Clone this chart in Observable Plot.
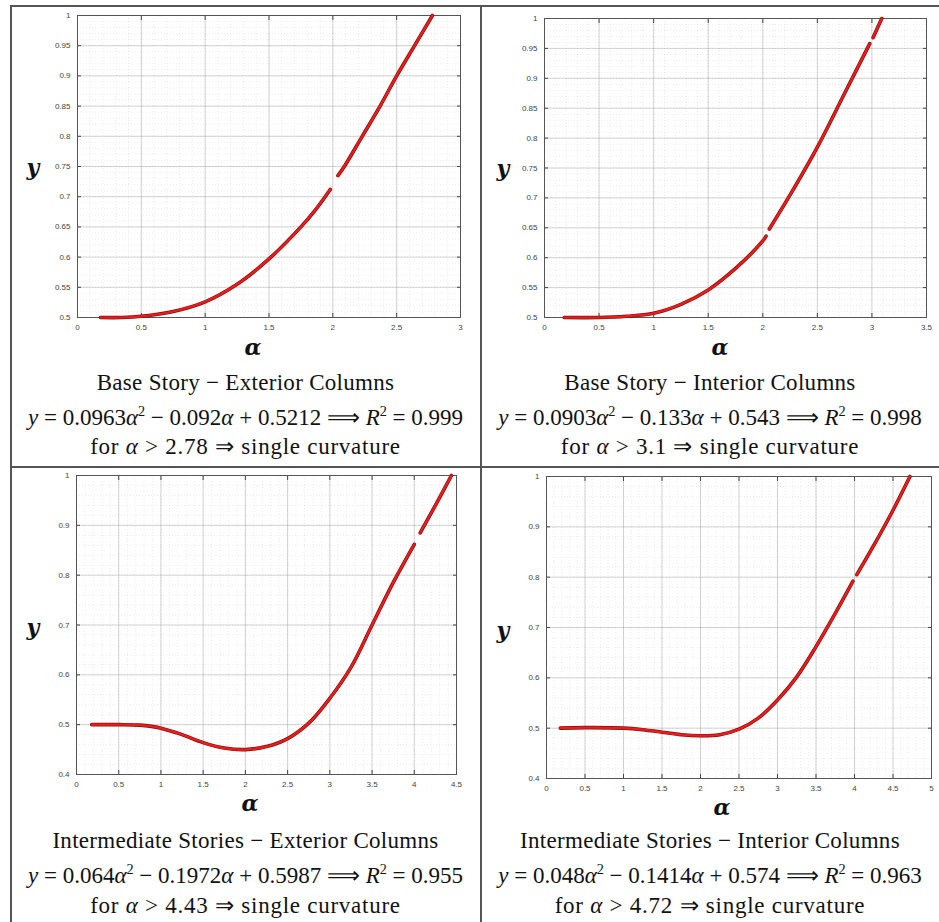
<!DOCTYPE html>
<html><head><meta charset="utf-8">
<script src="https://cdn.jsdelivr.net/npm/d3@7"></script>
<script src="https://cdn.jsdelivr.net/npm/@observablehq/plot@0.6"></script>
<style>
body{margin:0;background:#fff;}
#wrap{position:relative;width:939px;height:922px;overflow:hidden;background:#fff;}
.panel{position:absolute;}
.cap{position:absolute;text-align:center;font-family:"Liberation Serif",serif;font-size:23px;color:#111;line-height:30px;height:30px;white-space:nowrap;}
.cap sup{font-size:0.62em;line-height:0;vertical-align:0.6em;}
.cap.t{letter-spacing:0.3px;}
.cap.l{letter-spacing:0.75px;}
.lab{position:absolute;font-family:"DejaVu Serif",serif;font-weight:bold;font-style:italic;font-size:22px;line-height:22px;color:#111;transform:translate(-50%,-50%);}
.rule{position:absolute;background:#555;}
</style></head>
<body><div id="wrap"></div>
<script>
// ---- data ----
const p1Alpha = [0.18, 0.35, 0.5, 0.75, 1.0, 1.25, 1.5, 1.75, 1.87, 1.98, 2.01, 2.04, 2.09, 2.23, 2.37, 2.5, 2.64, 2.78];
const p1Y     = [0.500, 0.500, 0.502, 0.510, 0.526, 0.555, 0.597, 0.650, 0.680, 0.712, NaN, 0.735, 0.75, 0.80, 0.85, 0.90, 0.95, 1.0];

const p2Alpha = [0.18, 0.5, 0.75, 1.0, 1.25, 1.5, 1.75, 2.0, 2.03, 2.045, 2.06, 2.25, 2.5, 2.75, 2.98, 2.995, 3.01, 3.09];
const p2Y     = [0.500, 0.500, 0.502, 0.507, 0.522, 0.546, 0.582, 0.628, 0.636, NaN, 0.648, 0.705, 0.785, 0.875, 0.958, NaN, 0.968, 1.0];

const p3Alpha = [0.18, 0.5, 0.75, 1.0, 1.25, 1.5, 1.75, 2.0, 2.25, 2.5, 2.75, 3.0, 3.25, 3.5, 3.75, 4.0, 4.035, 4.07, 4.25, 4.44];
const p3Y     = [0.500, 0.500, 0.499, 0.493, 0.480, 0.464, 0.453, 0.450, 0.456, 0.472, 0.503, 0.553, 0.615, 0.70, 0.785, 0.862, NaN, 0.885, 0.94, 1.0];

const p4Alpha = [0.18, 0.5, 1.0, 1.25, 1.5, 1.75, 2.0, 2.25, 2.5, 2.75, 3.0, 3.25, 3.5, 3.75, 3.98, 4.0, 4.03, 4.25, 4.5, 4.72];
const p4Y     = [0.500, 0.501, 0.500, 0.497, 0.492, 0.487, 0.485, 0.487, 0.498, 0.52, 0.556, 0.602, 0.662, 0.728, 0.792, NaN, 0.805, 0.863, 0.933, 1.0];

// tick labels
const xTicks1 = [0, 0.5, 1, 1.5, 2, 2.5, 3];
const xTicks2 = [0, 0.5, 1, 1.5, 2, 2.5, 3, 3.5];
const xTicks3 = [0, 0.5, 1, 1.5, 2, 2.5, 3, 3.5, 4, 4.5];
const xTicks4 = [0, 0.5, 1, 1.5, 2, 2.5, 3, 3.5, 4, 4.5, 5];
const yTicksTop = [0.5, 0.55, 0.6, 0.65, 0.7, 0.75, 0.8, 0.85, 0.9, 0.95, 1];
const yTicksBottom = [0.4, 0.5, 0.6, 0.7, 0.8, 0.9, 1];

// captions
const titles = [
  "Base Story \u2212 Exterior Columns",
  "Base Story \u2212 Interior Columns",
  "Intermediate Stories \u2212 Exterior Columns",
  "Intermediate Stories \u2212 Interior Columns"
];
const equations = [
  "<i>y</i> = 0.0963<i>\u03b1</i><sup>2</sup> \u2212 0.092<i>\u03b1</i> + 0.5212 \u27f9 <i>R</i><sup>2</sup> = 0.999",
  "<i>y</i> = 0.0903<i>\u03b1</i><sup>2</sup> \u2212 0.133<i>\u03b1</i> + 0.543 \u27f9 <i>R</i><sup>2</sup> = 0.998",
  "<i>y</i> = 0.064<i>\u03b1</i><sup>2</sup> \u2212 0.1972<i>\u03b1</i> + 0.5987 \u27f9 <i>R</i><sup>2</sup> = 0.955",
  "<i>y</i> = 0.048<i>\u03b1</i><sup>2</sup> \u2212 0.1414<i>\u03b1</i> + 0.574 \u27f9 <i>R</i><sup>2</sup> = 0.963"
];
const limits = [
  "for <i>\u03b1</i> &gt; 2.78 \u21d2 single curvature",
  "for <i>\u03b1</i> &gt; 3.1 \u21d2 single curvature",
  "for <i>\u03b1</i> &gt; 4.43 \u21d2 single curvature",
  "for <i>\u03b1</i> &gt; 4.72 \u21d2 single curvature"
];

// ---- layout ----
const panels = [
  {alpha: p1Alpha, y: p1Y, xTicks: xTicks1, xDom: [0, 3], yTicks: yTicksTop, yDom: [0.5, 1], yMinor: 0.01,
   left: 0, top: 0, w: 470, h: 360, ml: 77, mr: 10, mt: 15, mb: 43, ylab: [33, 167], alab: [253, 347], col: 0, row: 0},
  {alpha: p2Alpha, y: p2Y, xTicks: xTicks2, xDom: [0, 3.5], yTicks: yTicksTop, yDom: [0.5, 1], yMinor: 0.01,
   left: 470, top: 0, w: 469, h: 360, ml: 74, mr: 13, mt: 18, mb: 43, ylab: [503, 168], alab: [720, 347], col: 1, row: 0},
  {alpha: p3Alpha, y: p3Y, xTicks: xTicks3, xDom: [0, 4.5], yTicks: yTicksBottom, yDom: [0.4, 1], yMinor: 0.02,
   left: 0, top: 460, w: 470, h: 360, ml: 76, mr: 14, mt: 15, mb: 46, ylab: [33, 627], alab: [250, 803], col: 0, row: 1},
  {alpha: p4Alpha, y: p4Y, xTicks: xTicks4, xDom: [0, 5], yTicks: yTicksBottom, yDom: [0.4, 1], yMinor: 0.02,
   left: 470, top: 460, w: 469, h: 360, ml: 76, mr: 8, mt: 16, mb: 42, ylab: [503, 630], alab: [722, 807], col: 1, row: 1}
];

const wrap = document.getElementById("wrap");
const fmt = d => String(d);
const tickStyle = {fontSize: "8px", fontFamily: "Liberation Sans, Arial, sans-serif"};

panels.forEach((p, i) => {
  const rows = p.alpha.map((a, k) => ({alpha: a, y: p.y[k]}));
  const xMinor = d3.range(p.xDom[0], p.xDom[1] + 1e-9, 0.1).map(v => +v.toFixed(3));
  const yMinor = d3.range(p.yDom[0], p.yDom[1] + 1e-9, p.yMinor).map(v => +v.toFixed(3));
  const chart = Plot.plot({
    width: p.w, height: p.h,
    marginLeft: p.ml, marginRight: p.mr, marginTop: p.mt, marginBottom: p.mb,
    style: {background: "transparent", ...tickStyle, color: "#444"},
    x: {domain: p.xDom},
    y: {domain: p.yDom},
    marks: [
      Plot.gridX(xMinor, {stroke: "#999", strokeOpacity: 0.18, strokeDasharray: "1,2"}),
      Plot.gridY(yMinor, {stroke: "#999", strokeOpacity: 0.18, strokeDasharray: "1,2"}),
      Plot.gridX(p.xTicks, {stroke: "#888", strokeOpacity: 0.35}),
      Plot.gridY(p.yTicks, {stroke: "#888", strokeOpacity: 0.35}),
      Plot.axisX({ticks: p.xTicks, anchor: "bottom", tickSize: -4, tickPadding: 11, tickFormat: fmt, label: null, stroke: "#444"}),
      Plot.axisX({ticks: p.xTicks, anchor: "top", tickSize: -4, tickFormat: () => "", label: null, stroke: "#444"}),
      Plot.axisY({ticks: p.yTicks, anchor: "left", tickSize: -4, tickPadding: 11, tickFormat: fmt, label: null, stroke: "#444"}),
      Plot.axisY({ticks: p.yTicks, anchor: "right", tickSize: -4, tickFormat: () => "", label: null, stroke: "#444"}),
      Plot.frame({stroke: "#555", strokeWidth: 1}),
      Plot.line(rows, {x: "alpha", y: "y", stroke: "#8a0d0d", strokeWidth: 3.6, curve: "catmull-rom"}),
      Plot.line(rows, {x: "alpha", y: "y", stroke: "#ea1c1c", strokeWidth: 2.2, curve: "catmull-rom"})
    ]
  });
  const div = document.createElement("div");
  div.className = "panel";
  div.style.left = p.left + "px";
  div.style.top = p.top + "px";
  div.appendChild(chart);
  wrap.appendChild(div);

  const yl = document.createElement("div");
  yl.className = "lab"; yl.textContent = "y";
  yl.style.left = p.ylab[0] + "px"; yl.style.top = p.ylab[1] + "px";
  wrap.appendChild(yl);
  const al = document.createElement("div");
  al.className = "lab"; al.textContent = "\u03b1";
  al.style.left = p.alab[0] + "px"; al.style.top = p.alab[1] + "px";
  wrap.appendChild(al);

  const colLeft = p.col === 0 ? 10 : 481;
  const colW = p.col === 0 ? 471 : 458;
  const centers = p.row === 0 ? [383, 418, 447] : [841, 876, 906];
  const classes = ["cap t", "cap", "cap l"];
  [titles[i], equations[i], limits[i]].forEach((html, k) => {
    const c = document.createElement("div");
    c.className = classes[k];
    c.innerHTML = html;
    c.style.left = colLeft + "px";
    c.style.width = colW + "px";
    c.style.top = (centers[k] - 15) + "px";
    wrap.appendChild(c);
  });
});

// table rules
[[10, 5, 929, 2], [10, 5, 2, 917], [480, 5, 2, 917], [10, 466, 929, 2]].forEach(([l, t, w, h]) => {
  const r = document.createElement("div");
  r.className = "rule";
  r.style.left = l + "px"; r.style.top = t + "px"; r.style.width = w + "px"; r.style.height = h + "px";
  wrap.appendChild(r);
});
</script>
</body></html>
